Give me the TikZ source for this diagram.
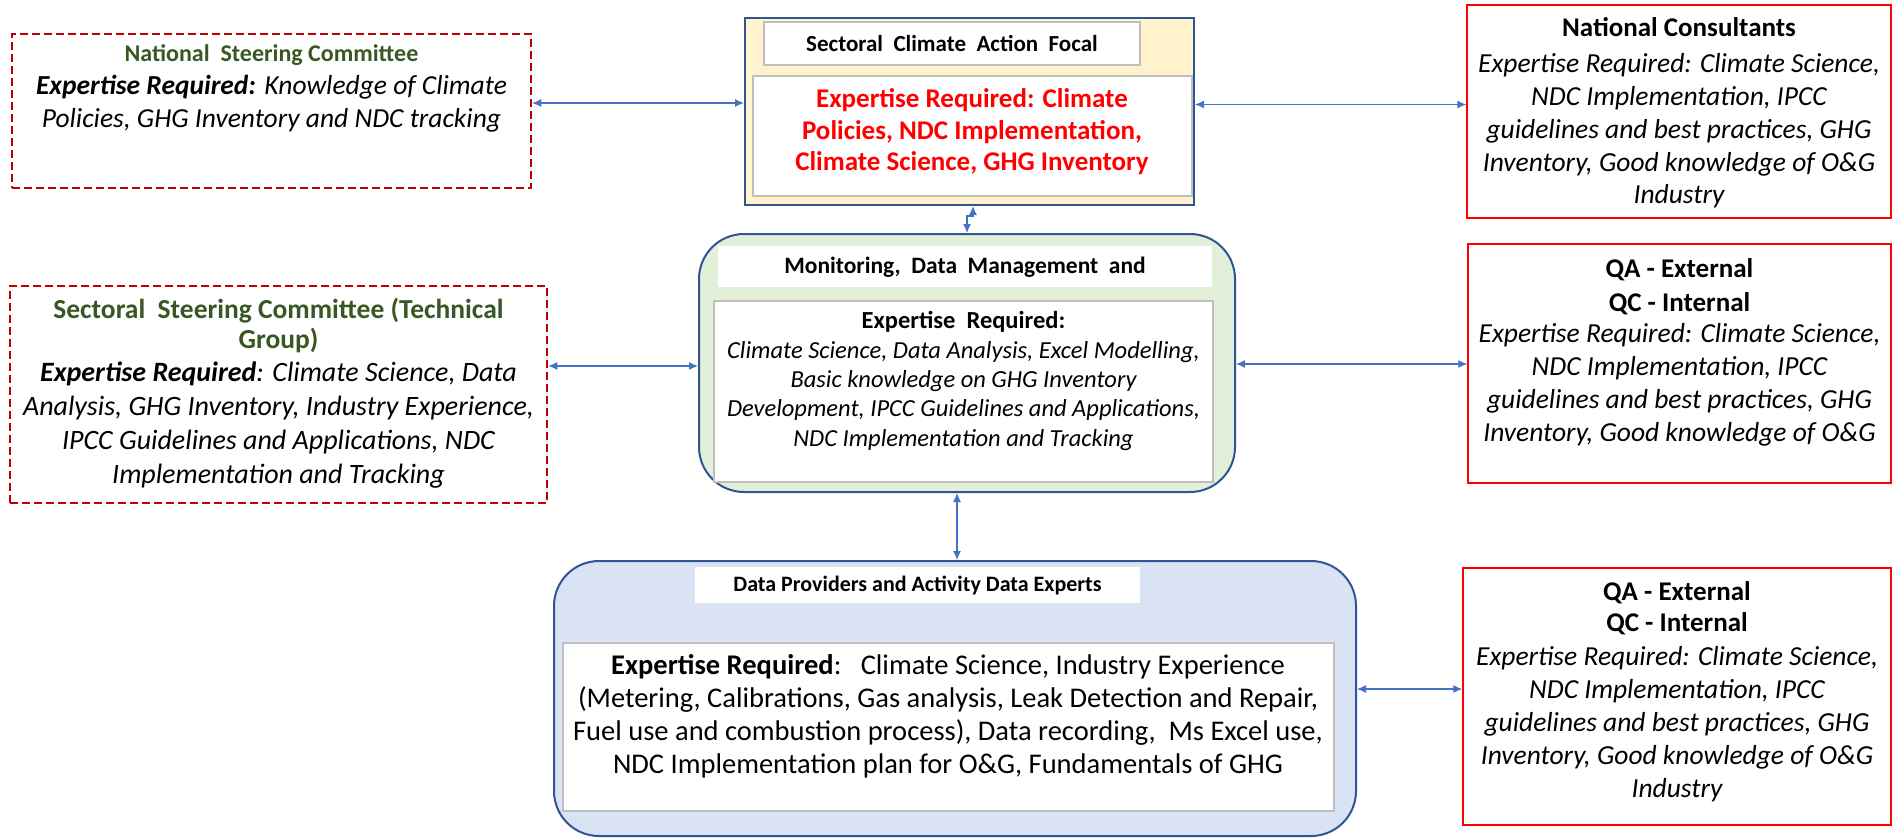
\documentclass[tikz,border=0pt]{standalone}
\usepackage{fontspec}
\setmainfont{Carlito}
\usetikzlibrary{arrows.meta,positioning,calc}

\definecolor{arrblue}{HTML}{4472C4}
\definecolor{frameblue}{HTML}{2F5597}
\definecolor{darkred}{HTML}{C00000}
\definecolor{titlegreen}{HTML}{385723}
\definecolor{focalfill}{HTML}{FFF2CC}
\definecolor{monfill}{HTML}{E2F0D9}
\definecolor{datafill}{HTML}{DAE3F3}
\definecolor{innergray}{HTML}{BFBFBF}

\tikzset{
    dashbox/.style={draw=darkred, line width=2.5pt, dash pattern=on 8pt off 4pt, inner sep=0pt},
    redbox/.style={draw=red, line width=1.5pt, inner sep=0pt},
    outerbox/.style={draw=frameblue, line width=2pt, inner sep=0pt},
    innerbox/.style={draw=innergray, fill=white, line width=2pt, inner sep=0pt},
    plainbox/.style={fill=white, inner sep=0pt},
    txt/.style={inner sep=0pt, align=center},
    txtfont/.style n args={3}{font=\fontsize{#1}{#2}\selectfont#3},
    link/.style={{Latex[length=9pt,width=8pt]}-{Latex[length=9pt,width=8pt]}, draw=arrblue, line width=1.2pt}
}

\begin{document}
\begin{tikzpicture}[x=1pt,y=-1pt]
    \useasboundingbox (0,0) rectangle (1893,838);

    \node[dashbox, minimum width=519pt, minimum height=154pt] at (271.5,111) (nsc) {};
    \node[txt, txtfont={24}{28}{\bfseries}, text=titlegreen] at (271.5,55) (nsctitle) {National~ Steering Committee};
    \node[txt, txtfont={27.5}{33}{\itshape}] at (271.5,103.5) (nscbody) {\textbf{Expertise Required:} Knowledge of Climate\\ Policies, GHG Inventory and NDC tracking};

    \node[dashbox, minimum width=537pt, minimum height=217pt] at (278.5,394.5) (ssc) {};
    \node[txt, txtfont={27.5}{30}{\bfseries}, text=titlegreen] at (278.5,325) (ssctitle) {Sectoral~ Steering Committee (Technical\\ Group)};
    \node[txt, txtfont={28}{34}{\itshape}] at (278.5,425) (sscbody) {\textbf{Expertise Required}: Climate Science, Data\\ Analysis, GHG Inventory, Industry Experience,\\ IPCC Guidelines and Applications, NDC\\ Implementation and Tracking};

    \node[outerbox, fill=focalfill, minimum width=449pt, minimum height=187pt] at (969.5,111.5) (scaf) {};
    \node[innerbox, minimum width=376pt, minimum height=43pt] at (952,43.5) (scafhead) {};
    \node[innerbox, minimum width=439pt, minimum height=120pt] at (972.5,136) (scafinner) {};
    \node[txt, txtfont={23}{27}{\bfseries}] at (952,43) (scaftitle) {Sectoral~ Climate~ Action~ Focal};
    \node[txt, txtfont={27}{31.5}{\bfseries}, text=red] at (972,132) (scafbody) {Expertise Required: Climate\\ Policies, NDC Implementation,\\ Climate Science, GHG Inventory};

    \node[redbox, minimum width=424pt, minimum height=213pt] at (1679,111.5) (nc) {};
    \node[txt, txtfont={27}{32}{\bfseries}] at (1679,27.5) (nctitle) {National Consultants};
    \node[txt, txtfont={27.5}{32.75}{\itshape}] at (1679,131) (ncbody) {Expertise Required: Climate Science,\\ NDC Implementation, IPCC\\ guidelines and best practices, GHG\\ Inventory, Good knowledge of O\&G\\ Industry};

    \node[outerbox, fill=monfill, rounded corners=45pt, minimum width=536pt, minimum height=258pt] at (967,363) (mdm) {};
    \node[plainbox, minimum width=494pt, minimum height=41pt] at (965,266.5) (mdmhead) {};
    \node[innerbox, minimum width=499pt, minimum height=181pt] at (963.5,391.5) (mdminner) {};
    \node[txt, txtfont={23.5}{28}{\bfseries}] at (965,267) (mdmtitle) {Monitoring,~ Data~ Management~ and};
    \node[txt, txtfont={24.5}{29.3}{\itshape}] at (963.5,381) (mdmbody) {{\upshape\bfseries Expertise~ Required:}\\ Climate Science, Data Analysis, Excel Modelling,\\ Basic knowledge on GHG Inventory\\ Development, IPCC Guidelines and Applications,\\ NDC Implementation and Tracking};

    \node[redbox, minimum width=423pt, minimum height=239pt] at (1679.5,363.5) (qaone) {};
    \node[txt, txtfont={27}{34}{\bfseries}] at (1679.5,287) (qaonetitle) {QA - External\\ QC - Internal};
    \node[txt, txtfont={27.5}{33}{\itshape}] at (1679.5,385) (qaonebody) {Expertise Required: Climate Science,\\ NDC Implementation, IPCC\\ guidelines and best practices, GHG\\ Inventory, Good knowledge of O\&G};

    \node[outerbox, fill=datafill, rounded corners=45pt, minimum width=802pt, minimum height=275pt] at (955,698.5) (dp) {};
    \node[plainbox, minimum width=445pt, minimum height=36pt] at (917.5,585) (dphead) {};
    \node[innerbox, minimum width=771pt, minimum height=168pt] at (948.5,727) (dpinner) {};
    \node[txt, txtfont={22}{26}{\bfseries}] at (917.5,585) (dptitle) {Data Providers and Activity Data Experts};
    \node[txt, txtfont={28.5}{33}{}] at (948,716.5) (dpbody) {\textbf{Expertise Required}:\ \ \ Climate Science, Industry Experience\\ (Metering, Calibrations, Gas analysis, Leak Detection and Repair,\\ Fuel use and combustion process), Data recording,\ \ Ms Excel use,\\ NDC Implementation plan for O\&G, Fundamentals of GHG};

    \node[redbox, minimum width=428pt, minimum height=257pt] at (1677,696.5) (qatwo) {};
    \node[txt, txtfont={27}{31}{\bfseries}] at (1677,608) (qatwotitle) {QA - External\\ QC - Internal};
    \node[txt, txtfont={27.5}{33}{\itshape}] at (1677,724.5) (qatwobody) {Expertise Required: Climate Science,\\ NDC Implementation, IPCC\\ guidelines and best practices, GHG\\ Inventory, Good knowledge of O\&G\\ Industry};

    \draw[link] ([yshift=8pt]nsc.east) -- ([yshift=8pt]nsc.east -| scaf.west);
    \draw[link] ([yshift=7pt]scaf.east) -- ([yshift=7pt]scaf.east -| nc.west);
    \draw[link] ([xshift=3.5pt]scaf.south) -- ++(0,10) -| (mdm.north);
    \draw[link] ([yshift=-3pt]mdm.west -| ssc.east) -- ([yshift=-3pt]mdm.west);
    \draw[link] ([yshift=-1pt]mdm.east) -- ([yshift=-1pt]mdm.east -| qaone.west);
    \draw[link] ([xshift=-10pt]mdm.south) -- ([xshift=-10pt]mdm.south |- dp.north);
    \draw[link] ([yshift=9.5pt]dp.east) -- ([yshift=9.5pt]dp.east -| qatwo.west);
\end{tikzpicture}
\end{document}
